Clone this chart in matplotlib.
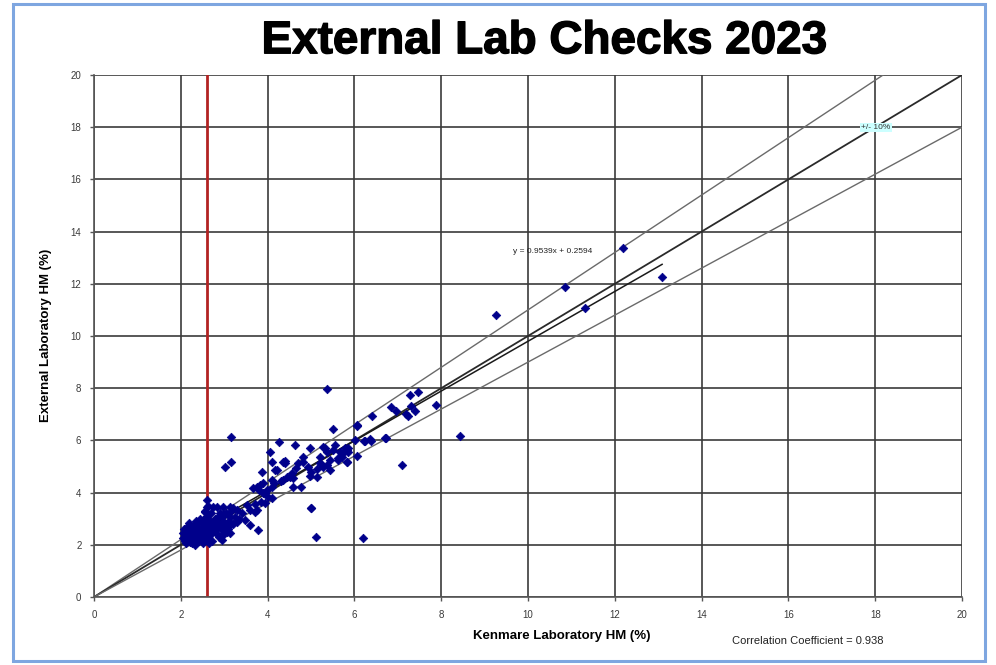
import matplotlib
matplotlib.use("Agg")
import matplotlib.pyplot as plt
import matplotlib.patheffects as pe
from matplotlib.patches import Rectangle
import numpy as np

plt.rcParams['font.family'] = ['Liberation Sans', 'DejaVu Sans']

title = "External Lab Checks 2023"
x_label = "Kenmare Laboratory HM (%)"
y_label = "External Laboratory HM (%)"
equation = "y = 0.9539x + 0.2594"
band_label = "+/- 10%"
corr_text = "Correlation Coefficient = 0.938"
slope = 0.9539
intercept = 0.2594
threshold_x = 2.6
ticks = [0, 2, 4, 6, 8, 10, 12, 14, 16, 18, 20]

# (Kenmare HM, External HM) pairs
kenmare = [
    # dense low cluster
    2.05, 2.05, 2.08, 2.10, 2.10, 2.12, 2.15, 2.18, 2.20, 2.20, 2.22, 2.25, 2.28, 2.30, 2.30,
    2.32, 2.35, 2.38, 2.40, 2.40, 2.42, 2.45, 2.48, 2.50, 2.50, 2.52, 2.55, 2.55, 2.58, 2.60,
    2.60, 2.62, 2.65, 2.68, 2.70, 2.70, 2.72, 2.75, 2.78, 2.80, 2.82, 2.85, 2.88, 2.90, 2.92,
    2.95, 2.98, 3.00, 3.02, 3.05, 3.08, 3.10, 3.15, 3.20, 3.25, 3.30, 3.35, 2.45, 2.35, 2.25,
    2.65, 2.15, 2.55, 2.70, 2.62, 2.60, 2.60, 2.56, 2.75, 2.83, 2.90, 2.98, 3.13, 3.13, 3.13,
    3.06, 3.09, 3.21, 3.29, 3.40, 3.48, 3.52, 3.59, 3.71, 3.76, 3.79, 3.82, 3.94, 3.94, 2.40,
    2.30, 2.18, 2.50, 2.85, 2.95, 3.00,
    # mid range
    3.02, 3.15, 3.15, 3.67, 3.75, 3.80, 3.86, 3.90, 3.90, 3.98, 4.06, 4.09, 4.09, 4.09, 4.09,
    4.17, 4.21, 4.27, 4.36, 4.36, 4.40, 4.40, 4.44, 4.52, 4.56, 4.59, 4.59, 4.63, 4.71, 4.78,
    4.82, 4.82, 4.94, 4.98, 4.98, 5.01, 5.01, 5.13, 5.13, 5.21, 5.21, 5.25, 5.28, 5.28, 5.32,
    5.36, 5.36, 5.44, 5.44, 5.51, 5.51, 5.55, 5.63, 5.63, 5.67, 5.71, 5.76, 5.78, 5.82, 5.82,
    5.84, 5.86, 5.86, 6.01, 6.05, 6.05, 6.07, 6.22, 6.24, 6.36, 6.38, 6.40, 6.71, 6.72, 6.84,
    6.96, 7.18, 7.24, 7.30, 7.40, 7.27, 7.47, 7.87, 4.00, 4.30, 4.15, 4.65, 3.70, 3.85, 3.60,
    # outliers / high values
    5.37, 5.12, 6.19, 5.01, 7.09, 8.44, 9.26, 10.85, 11.31, 12.19, 13.09,
]
external = [
    2.25, 2.45, 2.60, 2.35, 2.15, 2.05, 2.50, 2.30, 2.40, 2.65, 2.10, 2.55, 2.20, 2.45, 2.75,
    2.00, 2.35, 2.60, 2.85, 2.15, 2.50, 2.30, 2.70, 2.95, 2.05, 2.45, 2.60, 2.20, 2.80, 3.10,
    2.50, 2.30, 2.70, 2.90, 2.40, 2.55, 2.15, 2.75, 3.00, 2.60, 2.45, 2.85, 2.30, 2.70, 3.10,
    2.55, 2.90, 2.40, 2.75, 3.20, 2.60, 2.90, 3.30, 2.80, 3.05, 3.35, 3.00, 3.00, 2.90, 2.05,
    2.05, 2.70, 3.30, 3.20, 3.50, 3.72, 3.46, 3.27, 3.46, 3.46, 3.21, 3.46, 3.46, 3.08, 2.44,
    2.50, 2.69, 3.40, 2.89, 3.21, 2.95, 3.52, 2.76, 3.27, 3.33, 2.57, 4.29, 3.97, 3.59, 2.25,
    2.60, 2.85, 2.35, 3.05, 2.20, 3.15,
    4.97, 5.18, 6.12, 4.16, 4.23, 4.10, 4.80, 3.97, 4.36, 4.10, 5.54, 5.16, 4.48, 4.23, 3.78,
    4.87, 4.87, 5.93, 5.18, 4.48, 5.22, 5.12, 4.61, 4.61, 4.74, 4.23, 4.55, 5.82, 5.12, 4.23,
    5.38, 5.18, 4.99, 5.70, 4.64, 4.80, 3.40, 4.89, 4.61, 5.38, 5.12, 5.06, 5.76, 4.99, 5.70,
    5.57, 5.06, 5.25, 4.87, 6.42, 5.63, 5.82, 5.34, 5.25, 5.57, 5.38, 5.57, 5.70, 5.63, 5.18,
    5.18, 5.70, 5.57, 6.03, 6.59, 5.40, 6.56, 5.99, 5.99, 6.04, 5.97, 6.95, 6.08, 6.09, 7.27,
    7.14, 7.00, 6.93, 7.32, 7.13, 7.73, 7.85, 7.34, 3.85, 4.45, 4.35, 4.95, 3.55, 3.65, 3.35,
    7.97, 2.31, 2.26, 3.41, 5.06, 6.18, 10.82, 11.89, 11.08, 13.37, 12.26,
]

fig = plt.figure(figsize=(9.96, 6.65), dpi=100)
fig.patch.set_facecolor('white')

# blue frame around the chart area
fig.add_artist(Rectangle((13/996, 1-661/665), (985-13)/996, (661-4)/665,
                         transform=fig.transFigure, fill=False,
                         edgecolor='#7ea6e0', linewidth=2.2))

ax = fig.add_axes([94/996, 1-597/665, (962-94)/996, (597-75)/665])
ax.set_xlim(0, 20)
ax.set_ylim(0, 20)
ax.set_xticks(ticks)
ax.set_yticks(ticks)
ax.grid(True, color='#3a3a3a', linewidth=1.4, alpha=0.85)
ax.set_axisbelow(True)
for s in ax.spines.values():
    s.set_color('#555555')
    s.set_linewidth(1.2)
ax.spines['top'].set_visible(False)
ax.spines['right'].set_visible(False)
ax.tick_params(axis='both', labelsize=7, labelcolor='#3a3a3a', color='#555555',
               length=3, width=1, pad=6)

# reference lines: 1:1 and +/-10 %
xr = np.array([0, 20])
ax.plot(xr, xr * 1.1, color='#6a6a6a', linewidth=1.0, zorder=2)
ax.plot(xr, xr, color='#2a2a2a', linewidth=1.3, zorder=2)
ax.plot(xr, xr * 0.9, color='#6a6a6a', linewidth=1.0, zorder=2)

# trend line
xt = np.array([min(kenmare), max(kenmare)])
ax.plot(xt, slope * xt + intercept, color='#1a1a1a', linewidth=1.1, zorder=2)

# threshold line
ax.axvline(threshold_x, color='#b22222', linewidth=2.0, zorder=2)

ax.scatter(kenmare, external, marker='D', s=19, color='#00008b', edgecolors='#00008b',
           linewidths=0.5, zorder=3)

ax.text(9.65, 13.25, equation, fontsize=6, color='#222222', va='center', ha='left', zorder=4)
ax.text(17.68, 17.98, band_label, fontsize=6, color='#333333', va='center', ha='left',
        zorder=4, bbox=dict(boxstyle='square,pad=0.15', facecolor='#ccffff', edgecolor='none'))

fig.text(0.547, 0.938, title, fontsize=33, fontweight='bold', ha='center', va='center',
         color='black',
         path_effects=[pe.withStroke(linewidth=1.0, foreground='black')])
fig.text(0.564, 0.044, x_label, fontsize=9.5, fontweight='bold', ha='center', va='center')
fig.text(0.046, 0.495, y_label, fontsize=9.5, fontweight='bold', ha='center', va='center',
         rotation=90)
fig.text(0.811, 0.036, corr_text, fontsize=8, ha='center', va='center', color='#222222')

fig.savefig('out.png', dpi=100)
